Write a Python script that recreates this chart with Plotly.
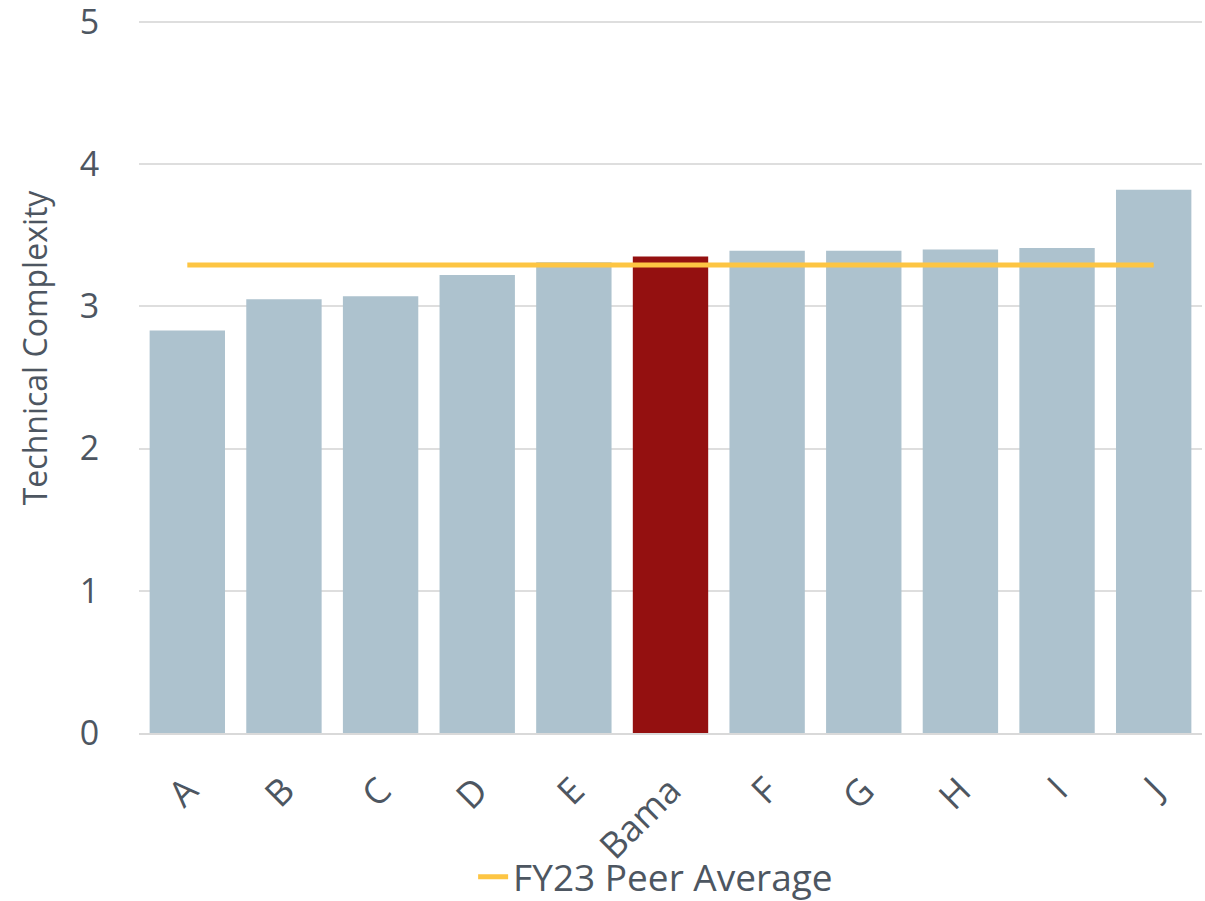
import plotly.graph_objects as go

categories = ["A", "B", "C", "D", "E", "Bama", "F", "G", "H", "I", "J"]
complexity = [2.83, 3.05, 3.07, 3.22, 3.31, 3.35, 3.39, 3.39, 3.40, 3.41, 3.82]
peer_average = 3.29
highlight = "Bama"

bar_colors = ["#941010" if c == highlight else "#adc2ce" for c in categories]
text_color = "#4d5661"
font_family = "'Open Sans', sans-serif"

fig = go.Figure()
fig.add_trace(go.Bar(
    x=categories,
    y=complexity,
    marker=dict(color=bar_colors, line=dict(width=0)),
    showlegend=False,
))
fig.add_trace(go.Scatter(
    x=categories,
    y=[peer_average] * len(categories),
    mode="lines",
    line=dict(color="#fdc543", width=5),
    name="FY23 Peer Average",
))

# y-axis title placed as a rotated annotation so it can sit slightly above centre
fig.add_annotation(
    text="Technical Complexity",
    xref="paper", yref="paper",
    x=-0.098, y=0.540,
    xanchor="center", yanchor="middle",
    textangle=-90,
    showarrow=False,
    font=dict(size=32, color=text_color),
)

fig.update_layout(
    width=1205,
    height=901,
    margin=dict(l=139, r=3, t=19, b=168, autoexpand=False),
    paper_bgcolor="white",
    plot_bgcolor="white",
    bargap=0.22,
    font=dict(family=font_family, color=text_color, size=30),
    legend=dict(
        orientation="h",
        x=0.486, xanchor="center",
        y=-0.202, yanchor="middle",
        bgcolor="rgba(0,0,0,0)",
        font=dict(size=37, color=text_color),
        itemwidth=30,
    ),
    xaxis=dict(
        automargin=False,
        tickangle=-45,
        tickfont=dict(size=36, color=text_color),
        ticklabelstandoff=20,
        showgrid=False,
        showline=True,
        linecolor="#d9d9d9",
        linewidth=2,
        ticks="",
    ),
    yaxis=dict(
        automargin=False,
        range=[0, 5.02],
        tickvals=[0, 1, 2, 3, 4, 5],
        showgrid=True,
        gridcolor="#dedede",
        gridwidth=1.5,
        zeroline=False,
        tickfont=dict(size=34, color=text_color),
        ticklabeloverflow="allow",
        ticks="outside",
        ticklen=32,
        tickcolor="rgba(0,0,0,0)",
    ),
)

fig.write_html("out.html")
